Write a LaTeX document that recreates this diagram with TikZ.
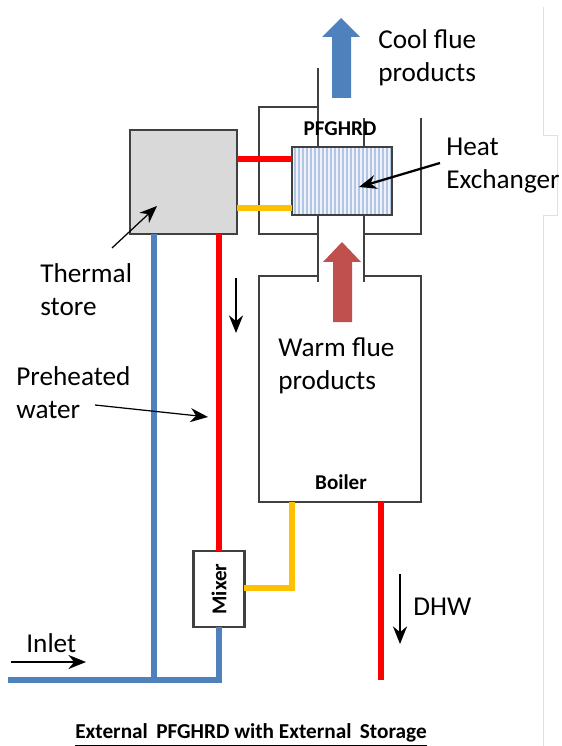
\documentclass[tikz,border=0pt]{standalone}
\usepackage{fontspec}
\setmainfont{Carlito}
\usetikzlibrary{arrows.meta}
\definecolor{flueblue}{HTML}{4F81BD}
\definecolor{fluered}{HTML}{C0504D}
\definecolor{pipered}{HTML}{FF0000}
\definecolor{pipeamber}{HTML}{FFC000}
\definecolor{wallgray}{HTML}{404040}
\definecolor{storegray}{HTML}{D9D9D9}
\tikzset{
  wall/.style={draw=wallgray, line width=1.2pt, line join=miter},
  unit/.style={wall, inner sep=0pt, outer sep=0pt, font=\bfseries\fontsize{12}{14}\selectfont},
  redpipe/.style={draw=pipered, line width=3.2pt},
  amberpipe/.style={draw=pipeamber, line width=3.2pt},
  bluepipe/.style={draw=flueblue, line width=3.2pt},
  pointer/.style={draw=black, line width=0.7pt, -{Stealth[length=10pt,width=8pt]}},
  pagemark/.style={draw=black!12, line width=0.5pt},
  caption/.style={align=left, anchor=north west, inner sep=0pt, font=\fontsize{15.5}{18.8}\selectfont},
}
\begin{document}
\begin{tikzpicture}[x=0.02cm,y=-0.02cm]
  \useasboundingbox (0,0) rectangle (561,746);
  \coordinate (PL) at (318,68);
  \coordinate (PR) at (364,118);
  \coordinate (OL) at (259,107);
  \coordinate (OR) at (421,118);
  \coordinate (BL) at (318,282);
  \coordinate (BR) at (364,282);
  \coordinate (InA) at (8,680);
  \coordinate (Tee) at (154,680);
  \coordinate (Elb) at (219,680);
  \coordinate (DHWend) at (381,680);
\draw[pagemark] (543,7)--(543,135)--(557,135)--(557,215)--(543,215)--(543,746);
\node[unit, fill=storegray, minimum width=2.14cm, minimum height=2.08cm] (store) at (183.5,182) {};
\node[unit, minimum width=2cm, minimum height=1.36cm] (hx) at (342,181) {};
\fill[blue!6!white] (hx.south west) rectangle (hx.north east);
\foreach \sx in {295,299,...,391}
  \draw[flueblue!45!white, line width=0.6pt] (\sx,148)--(\sx,214);
\draw[wall] (hx.south west) rectangle (hx.north east);
\node[unit, fill=white, minimum width=1.02cm, minimum height=1.52cm] (mixer) at (219,589) {\rotatebox{90}{Mixer}};
\draw[wall] (PL)--(PL|-hx.north);
\draw[wall] (PR)--(PR|-hx.north);
\draw[wall] (PL)++(0,39)--(OL)--(259,234)--(318,234);
\draw[wall] (OR)--(421,234)--(364,234);
\draw[wall] (PL|-hx.south)--(BL);
\draw[wall] (PR|-hx.south)--(BR);
\draw[wall] (318,276)--(259,276)--(259,502)--(421,502)--(421,276)--(364,276);
\coordinate (boilerbase) at (340,502);
\draw[redpipe] (store.east|-0,159)--(hx.west|-0,159);
\draw[amberpipe] (store.east|-0,208)--(hx.west|-0,208);
\draw[bluepipe] (store.south-|Tee)--(Tee);
\draw[redpipe] (store.south-|Elb)--(mixer.north);
\draw[bluepipe] (InA)--(Elb)--(mixer.south);
\draw[amberpipe] (boilerbase-|292,0)--(292,588)--(mixer.east|-0,588);
\draw[redpipe] (boilerbase-|DHWend)--(DHWend);
\fill[flueblue] (341,18)--(360,37)--(351,37)--(351,98)--(332,98)--(332,37)--(322,37)--cycle;
\fill[fluered] (342,242)--(361,262)--(352,262)--(352,322)--(333,322)--(333,262)--(323,262)--cycle;
\node[font=\bfseries\fontsize{12}{14}\selectfont, inner sep=0pt] (pfg) at (340,129) {PFGHRD};
\node[font=\bfseries\fontsize{12}{14}\selectfont, inner sep=0pt] (boilerlabel) at (341,482) {Boiler};
\node[caption] (cool) at (378,29) {Cool flue\\products};
\node[caption] (heat) at (446,138) {Heat\\Exchanger};
\node[caption] (warm) at (278,337) {Warm flue\\products};
\node[caption] (thermal) at (40,263) {Thermal\\store};
\node[caption] (preheated) at (16,366) {Preheated\\water};
\node[caption] (dhw) at (413,598) {DHW};
\node[caption] (inlet) at (26,633) {Inlet};
\node[font=\bfseries\fontsize{12.1}{14}\selectfont, inner sep=0pt] (title) at (251,735) {\underline{External\, PFGHRD with External\, Storage}};
\coordinate (PreA) at (95,405);
\coordinate (PreB) at (208,417);
\coordinate (ThA) at (112,248);
\coordinate (ThB) at (157,206);
\coordinate (HxA) at (440,163);
\coordinate (HxB) at (359,187);
\coordinate (FlowA) at (236,278);
\coordinate (FlowB) at (236,333);
\coordinate (DhwA) at (400,574);
\coordinate (DhwB) at (400,644);
\coordinate (InB) at (11,662);
\coordinate (InC) at (86,662);
\draw[pointer] (PreA)--(PreB);
\draw[pointer] (ThA)--(ThB);
\draw[pointer, line width=1.3pt] (HxA)--(HxB);
\draw[pointer, line width=1.2pt] (FlowA)--(FlowB);
\draw[pointer, line width=1.2pt] (DhwA)--(DhwB);
\draw[pointer, line width=1.2pt] (InB)--(InC);
\end{tikzpicture}
\end{document}
